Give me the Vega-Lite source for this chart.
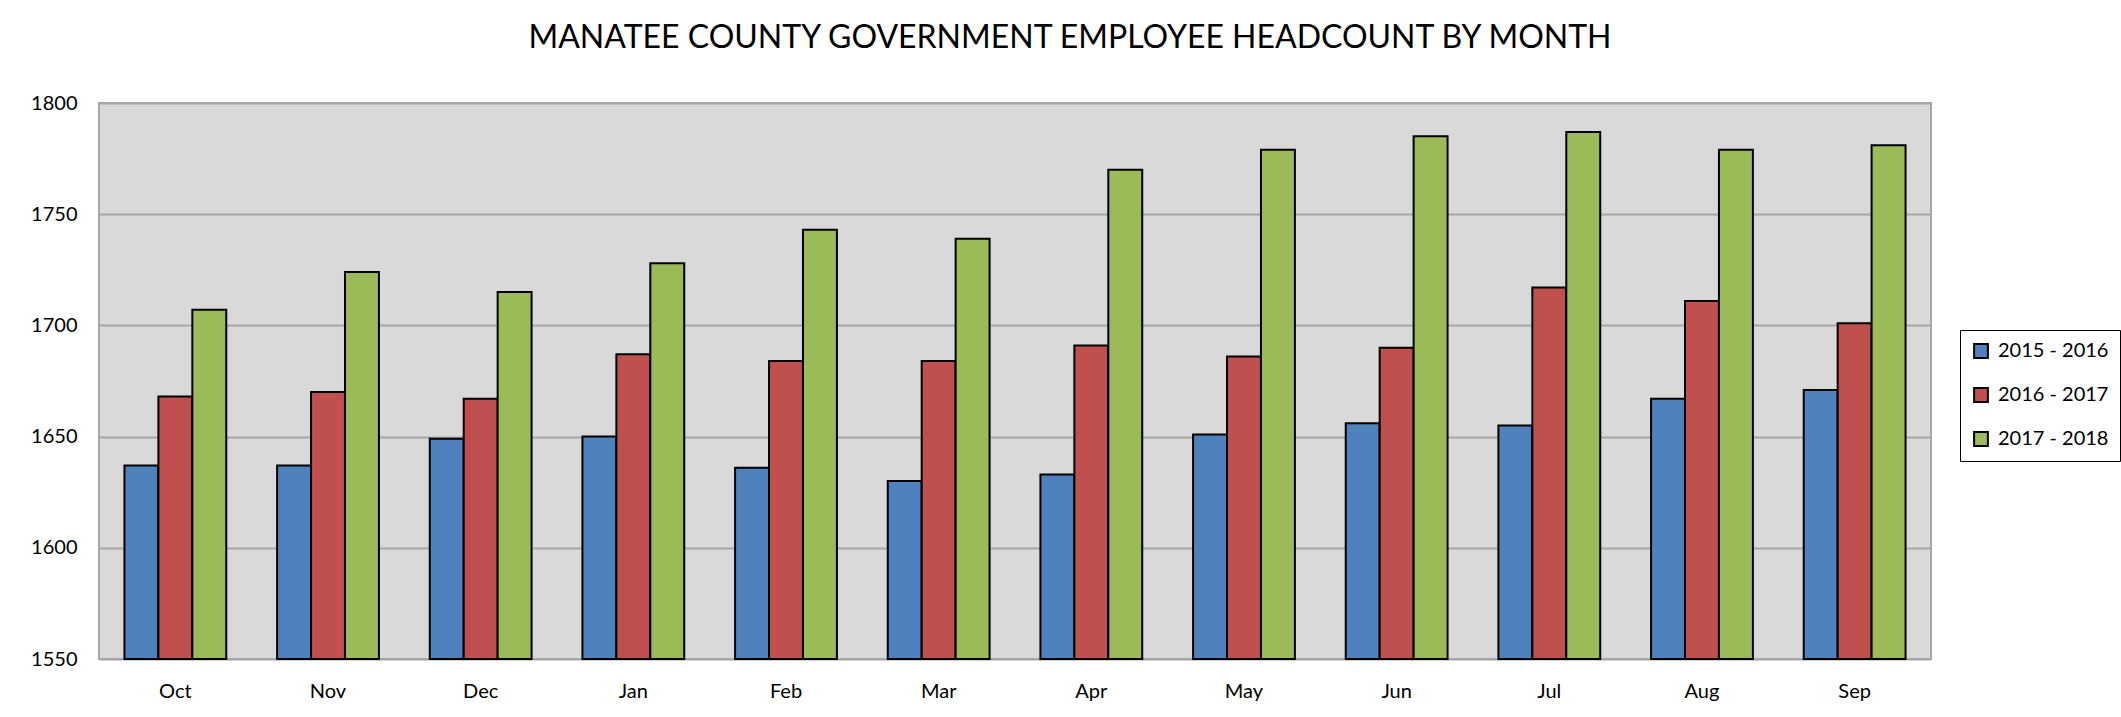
{
  "$schema": "https://vega.github.io/schema/vega-lite/v6.json",
  "width": 1832,
  "height": 556,
  "autosize": "none",
  "padding": {"left": 99, "top": 103, "right": 190, "bottom": 58},
  "background": "white",
  "title": {
    "text": "MANATEE COUNTY GOVERNMENT EMPLOYEE HEADCOUNT BY MONTH",
    "font": "Lato",
    "fontSize": 32,
    "fontWeight": "normal",
    "color": "black",
    "anchor": "middle",
    "baseline": "alphabetic",
    "dx": 55,
    "offset": 13
  },
  "data": {
    "values": [
      {"month": "Oct", "season": "2015 - 2016", "headcount": 1637},
      {"month": "Oct", "season": "2016 - 2017", "headcount": 1668},
      {"month": "Oct", "season": "2017 - 2018", "headcount": 1707},
      {"month": "Nov", "season": "2015 - 2016", "headcount": 1637},
      {"month": "Nov", "season": "2016 - 2017", "headcount": 1670},
      {"month": "Nov", "season": "2017 - 2018", "headcount": 1724},
      {"month": "Dec", "season": "2015 - 2016", "headcount": 1649},
      {"month": "Dec", "season": "2016 - 2017", "headcount": 1667},
      {"month": "Dec", "season": "2017 - 2018", "headcount": 1715},
      {"month": "Jan", "season": "2015 - 2016", "headcount": 1650},
      {"month": "Jan", "season": "2016 - 2017", "headcount": 1687},
      {"month": "Jan", "season": "2017 - 2018", "headcount": 1728},
      {"month": "Feb", "season": "2015 - 2016", "headcount": 1636},
      {"month": "Feb", "season": "2016 - 2017", "headcount": 1684},
      {"month": "Feb", "season": "2017 - 2018", "headcount": 1743},
      {"month": "Mar", "season": "2015 - 2016", "headcount": 1630},
      {"month": "Mar", "season": "2016 - 2017", "headcount": 1684},
      {"month": "Mar", "season": "2017 - 2018", "headcount": 1739},
      {"month": "Apr", "season": "2015 - 2016", "headcount": 1633},
      {"month": "Apr", "season": "2016 - 2017", "headcount": 1691},
      {"month": "Apr", "season": "2017 - 2018", "headcount": 1770},
      {"month": "May", "season": "2015 - 2016", "headcount": 1651},
      {"month": "May", "season": "2016 - 2017", "headcount": 1686},
      {"month": "May", "season": "2017 - 2018", "headcount": 1779},
      {"month": "Jun", "season": "2015 - 2016", "headcount": 1656},
      {"month": "Jun", "season": "2016 - 2017", "headcount": 1690},
      {"month": "Jun", "season": "2017 - 2018", "headcount": 1785},
      {"month": "Jul", "season": "2015 - 2016", "headcount": 1655},
      {"month": "Jul", "season": "2016 - 2017", "headcount": 1717},
      {"month": "Jul", "season": "2017 - 2018", "headcount": 1787},
      {"month": "Aug", "season": "2015 - 2016", "headcount": 1667},
      {"month": "Aug", "season": "2016 - 2017", "headcount": 1711},
      {"month": "Aug", "season": "2017 - 2018", "headcount": 1779},
      {"month": "Sep", "season": "2015 - 2016", "headcount": 1671},
      {"month": "Sep", "season": "2016 - 2017", "headcount": 1701},
      {"month": "Sep", "season": "2017 - 2018", "headcount": 1781}
    ]
  },
  "mark": {"type": "bar", "stroke": "black", "strokeWidth": 2},
  "encoding": {
    "x": {
      "field": "month",
      "type": "nominal",
      "sort": ["Oct", "Nov", "Dec", "Jan", "Feb", "Mar", "Apr", "May", "Jun", "Jul", "Aug", "Sep"],
      "scale": {"paddingInner": 0.333, "paddingOuter": 0.1667},
      "axis": {
        "title": null,
        "labelAngle": 0,
        "labelFont": "Lato",
        "labelFontSize": 20,
        "labelColor": "black",
        "labelPadding": 22,
        "ticks": false,
        "domain": false,
        "grid": false
      }
    },
    "xOffset": {
      "field": "season",
      "type": "nominal",
      "scale": {"paddingInner": 0, "paddingOuter": 0}
    },
    "y": {
      "field": "headcount",
      "type": "quantitative",
      "scale": {"domain": [1550, 1800], "zero": false, "nice": false},
      "axis": {
        "title": null,
        "values": [1550, 1600, 1650, 1700, 1750, 1800],
        "format": "d",
        "labelFont": "Lato",
        "labelFontSize": 20,
        "labelColor": "black",
        "labelPadding": 22,
        "ticks": false,
        "domain": false,
        "grid": true,
        "gridColor": "#a6a6a6",
        "gridWidth": 2
      }
    },
    "y2": {"datum": 1550},
    "color": {
      "field": "season",
      "type": "nominal",
      "scale": {"domain": ["2015 - 2016", "2016 - 2017", "2017 - 2018"], "range": ["#4f81bd", "#c0504d", "#9bbb59"]},
      "legend": {
        "title": null,
        "orient": "none",
        "legendX": 1861,
        "legendY": 227,
        "direction": "vertical",
        "fillColor": "white",
        "strokeColor": "black",
        "padding": 11,
        "symbolType": "square",
        "symbolSize": 190,
        "symbolStrokeColor": "black",
        "symbolStrokeWidth": 2,
        "symbolOpacity": 1,
        "labelFont": "Lato",
        "labelFontSize": 20,
        "labelColor": "black",
        "labelOffset": 7,
        "rowPadding": 22
      }
    }
  },
  "config": {
    "font": "Lato",
    "view": {"fill": "#d9d9d9", "stroke": "#a6a6a6", "strokeWidth": 2}
  }
}
